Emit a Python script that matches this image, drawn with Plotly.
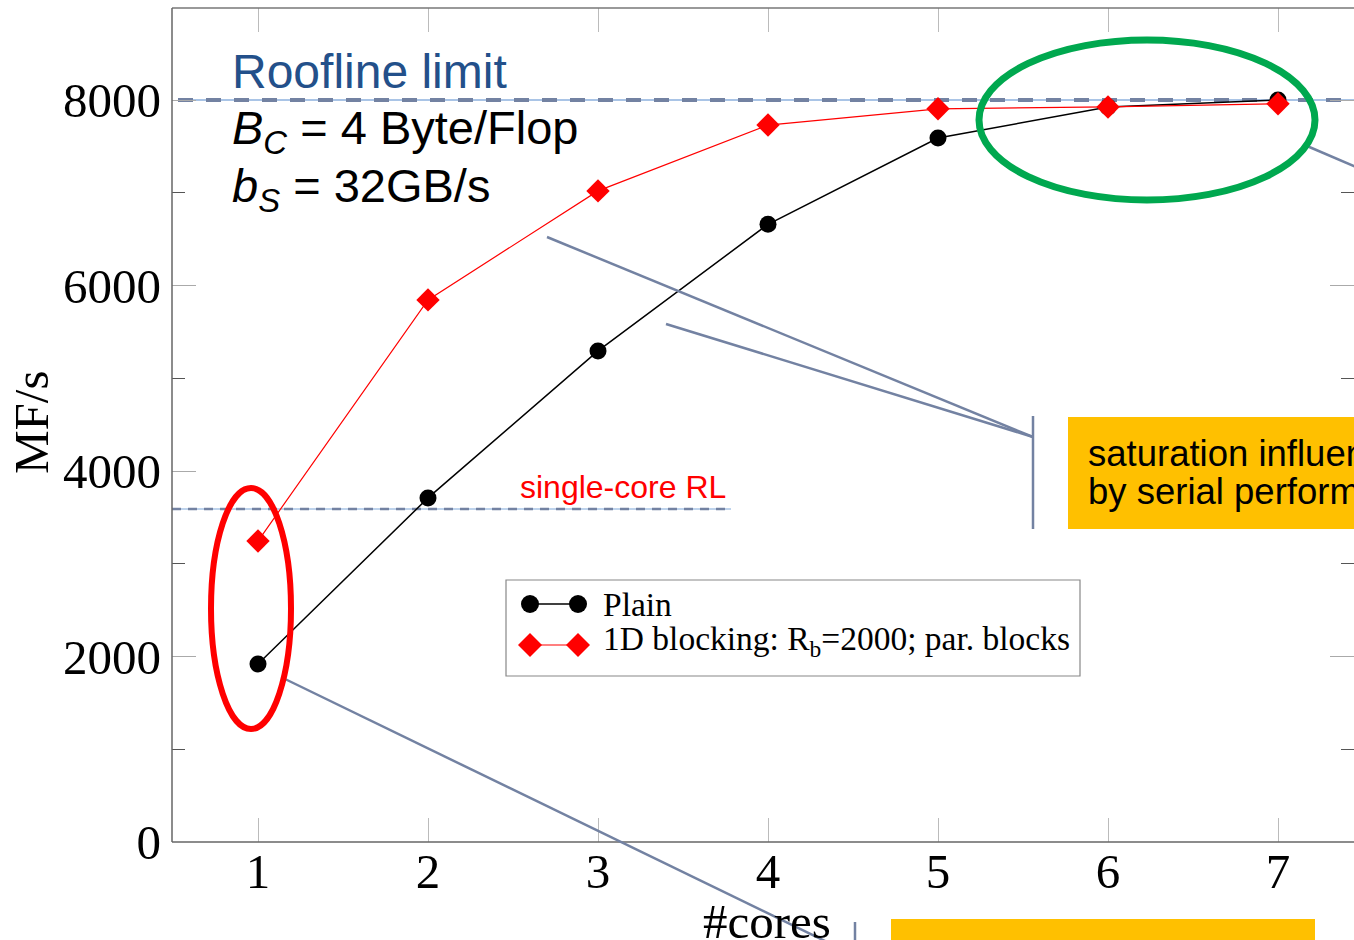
import plotly.graph_objects as go

# ---- data ----
cores = [1, 2, 3, 4, 5, 6, 7]
plain = [1920, 3710, 5295, 6660, 7590, 7925, 8000]
blocking = [3245, 5845, 7020, 7730, 7905, 7925, 7960]
roofline_limit = 8000
single_core_rl = 3590
x_tick_vals = [1, 2, 3, 4, 5, 6, 7]
y_tick_vals = [0, 2000, 4000, 6000, 8000]
series_names = ["Plain", "1D blocking: R<sub>b</sub>=2000; par. blocks"]

W, H = 1354, 940
PL, PR, PT, PB = 172, 1354, 8, 842
SERIF = "Liberation Serif"
SANS = "Liberation Sans"
GRAYBLUE = "#7382a2"
LIGHTBLUE = "#a9c4e6"


def px(x):
    return (x - PL) / (PR - PL)


def py(y):
    return (PB - y) / (PB - PT)


fig = go.Figure()
fig.add_trace(go.Scatter(x=cores, y=plain, mode="lines+markers", name=series_names[0],
                         line=dict(color="black", width=1.5),
                         marker=dict(symbol="circle", size=17, color="black"),
                         showlegend=False))
fig.add_trace(go.Scatter(x=cores, y=blocking, mode="lines+markers", name=series_names[1],
                         line=dict(color="red", width=1.2),
                         marker=dict(symbol="diamond", size=18, color="red"),
                         showlegend=False))

shapes = []
# roofline limit line
shapes.append(dict(type="line", xref="paper", yref="y", x0=px(178), x1=1.02,
                   y0=roofline_limit, y1=roofline_limit, layer="below",
                   line=dict(color=LIGHTBLUE, width=2)))
shapes.append(dict(type="line", xref="paper", yref="y", x0=px(178), x1=1.02,
                   y0=roofline_limit, y1=roofline_limit, layer="below",
                   line=dict(color=GRAYBLUE, width=4, dash="15px,13px")))
# single-core RL
shapes.append(dict(type="line", xref="paper", yref="y", x0=0, x1=px(731),
                   y0=single_core_rl, y1=single_core_rl, layer="below",
                   line=dict(color=LIGHTBLUE, width=1.5)))
shapes.append(dict(type="line", xref="paper", yref="y", x0=0, x1=px(731),
                   y0=single_core_rl, y1=single_core_rl, layer="below",
                   line=dict(color=GRAYBLUE, width=2.5, dash="9px,7px")))

# frame
shapes.append(dict(type="line", xref="paper", yref="paper", x0=0, x1=1.02, y0=1, y1=1,
                   line=dict(color="#777", width=1.5)))
shapes.append(dict(type="line", xref="paper", yref="paper", x0=0, x1=1.02, y0=0, y1=0,
                   line=dict(color="#666", width=1.5)))
shapes.append(dict(type="line", xref="paper", yref="paper", x0=0, x1=0, y0=0, y1=1,
                   line=dict(color="#666", width=1.5)))


def seg(x0, y0, x1, y1, color=GRAYBLUE, width=2.5):
    shapes.append(dict(type="line", xref="paper", yref="paper",
                       x0=px(x0), y0=py(y0), x1=px(x1), y1=py(y1),
                       line=dict(color=color, width=width)))


# callout lines
seg(547, 237, 1033, 437)
seg(666, 324, 1033, 437)
seg(1033, 416, 1033, 529)
seg(1307, 146, 1400, 186)
seg(285, 679, 860, 958)
seg(855, 922, 855, 945)

# highlight boxes
shapes.append(dict(type="rect", xref="paper", yref="paper", x0=px(1068), x1=px(1420),
                   y0=py(417), y1=py(529), fillcolor="#ffc000", line=dict(width=0)))
shapes.append(dict(type="rect", xref="paper", yref="paper", x0=px(891), x1=px(1315),
                   y0=py(919), y1=py(960), fillcolor="#ffc000", line=dict(width=0)))

# ellipses
shapes.append(dict(type="circle", xref="paper", yref="paper", x0=px(979), x1=px(1315),
                   y0=py(40), y1=py(200), line=dict(color="#00a84f", width=7)))
shapes.append(dict(type="circle", xref="paper", yref="paper", x0=px(211), x1=px(291),
                   y0=py(488), y1=py(729), line=dict(color="red", width=6)))

# legend box
shapes.append(dict(type="rect", xref="paper", yref="paper", x0=px(506), x1=px(1080),
                   y0=py(580), y1=py(676), fillcolor="white", line=dict(color="#888", width=1.2)))
seg(530, 604, 578, 604, color="black", width=1.5)
seg(530, 645, 578, 645, color="red", width=1.2)
for cx in (530, 578):
    shapes.append(dict(type="circle", xref="paper", yref="paper", x0=px(cx - 9), x1=px(cx + 9),
                       y0=py(604 - 9), y1=py(604 + 9), fillcolor="black", line=dict(width=0)))
    d = 12
    path = "M {},{} L {},{} L {},{} L {},{} Z".format(
        px(cx), py(645 - d), px(cx + d), py(645), px(cx), py(645 + d), px(cx - d), py(645))
    shapes.append(dict(type="path", xref="paper", yref="paper", path=path,
                       fillcolor="red", line=dict(width=0)))

annotations = []


def text(x, y, t, size, color="black", family=SANS, xanchor="left", angle=0):
    annotations.append(dict(x=px(x), y=py(y), xref="paper", yref="paper", text=t,
                            showarrow=False, xanchor=xanchor, yanchor="middle", textangle=angle,
                            font=dict(family=family, size=size, color=color)))


text(230, 72, "Roofline limit", 48, color="#23508a")
text(230, 131, "<i>B<sub>C</sub></i> = 4 Byte/Flop", 47)
text(230, 189, "<i>b<sub>S</sub></i> = 32GB/s", 47)
text(518, 487, "single-core RL", 32, color="red")
text(1086, 453, "saturation influenced", 36.5)
text(1086, 492, "by serial performance", 36.5)
text(601, 604, series_names[0], 33.5, family=SERIF)
text(601, 641, series_names[1], 33.5, family=SERIF)
text(31, 422, "MF/s", 49, family=SERIF, xanchor="center", angle=-90)
text(767, 921, "#cores", 49, family=SERIF, xanchor="center")

x_per = 170.0
fig.update_layout(
    width=W, height=H,
    margin=dict(l=PL, r=W - PR, t=PT, b=H - PB, pad=0),
    paper_bgcolor="white", plot_bgcolor="white",
    shapes=shapes, annotations=annotations,
    xaxis=dict(range=[1 - (258 - PL) / x_per, 1 + (PR - 258) / x_per],
               tickvals=x_tick_vals, ticks="inside", ticklen=24, tickwidth=1.2,
               tickcolor="#bbb", mirror="ticks", showline=False, showgrid=False, zeroline=False,
               ticklabelstandoff=-4,
               tickfont=dict(family=SERIF, size=49, color="black")),
    yaxis=dict(range=[0, (PB - PT) / 0.09275], tickvals=y_tick_vals, ticks="inside",
               ticklen=24, tickwidth=1.2, tickcolor="#aaa", mirror="ticks", showline=False,
               showgrid=False, zeroline=False, ticklabelstandoff=10,
               minor=dict(tickvals=[1000, 3000, 5000, 7000], ticks="inside", ticklen=13,
                          tickcolor="#555", tickwidth=1.2),
               tickfont=dict(family=SERIF, size=49, color="black")),
)

fig.write_html("out.html", config={"displayModeBar": False},
               post_script="document.body.style.margin='0';document.body.style.overflow='hidden';")
